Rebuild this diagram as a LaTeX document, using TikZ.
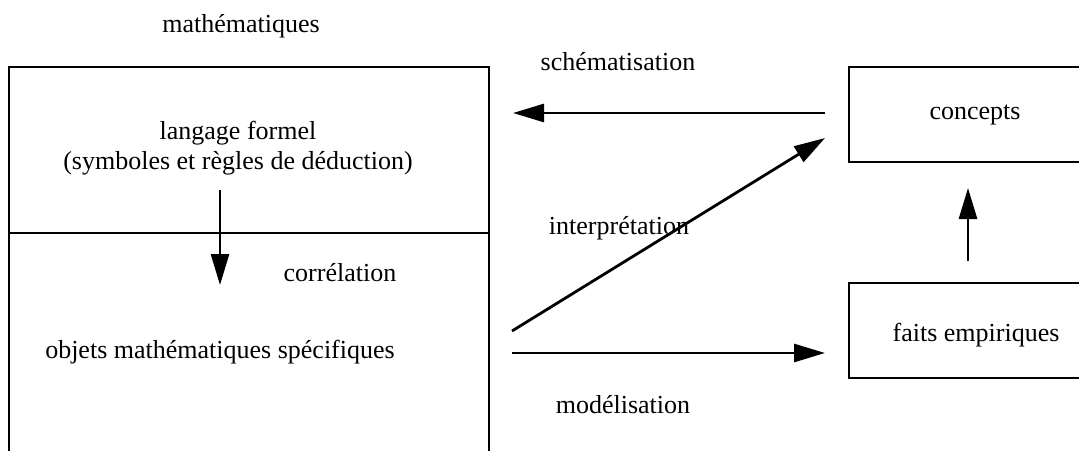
\documentclass[tikz,border=0pt]{standalone}
\usepackage{fontspec}
\setmainfont{Liberation Serif}
\usetikzlibrary{arrows.meta}

\begin{document}
\begin{tikzpicture}[x=1pt, y=-1pt,
		label/.style = {font=\fontsize{26}{30}\selectfont, inner sep=0pt, align=center},
		box/.style = {line width=2.8pt},
		link/.style = {line width=2.8pt, -{Triangle[length=31pt, width=18pt]}}]
		%page frame
		\useasboundingbox (0,0) rectangle (1079,450);
		
		%left block (open at the bottom)
		\coordinate (LTL) at (9,67);
		\coordinate (LTR) at (489,67);
		\draw [box] (9,460) -- (LTL) -- (LTR) -- (489,460);
		\draw [box] (9,233) -- (489,233);
		
		%right blocks (open to the right)
		\draw [box] (1090,67) -- (849,67) -- (849,162) -- (1090,162);
		\draw [box] (1090,283) -- (849,283) -- (849,378) -- (1090,378);
		
		%texts
		\node [label] (math) at (241,26) {mathématiques};
		\node [label] (lang) at (238,148) {langage formel\\(symboles et règles de déduction)};
		\node [label] (corr) at (340,273) {corrélation};
		\node [label] (obj) at (220,352) {objets mathématiques spécifiques};
		\node [label] (schem) at (618,62) {schématisation};
		\node [label] (interp) at (619,228) {interprétation};
		\node [label] (model) at (623,405) {modélisation};
		\node [label] (conc) at (975,115) {concepts};
		\node [label] (faits) at (976,335) {faits empiriques};
		
		%arrow ends
		\coordinate (s1) at (825,113);
		\coordinate (s2) at (513,113);
		\coordinate (i1) at (512,331);
		\coordinate (i2) at (825,138);
		\coordinate (m1) at (512,353);
		\coordinate (m2) at (825,353);
		\coordinate (c1) at (220,190);
		\coordinate (c2) at (220,285);
		\coordinate (f1) at (968,261);
		\coordinate (f2) at (968,188);
		
		%arrows
		\draw [link] (s1) -- (s2);
		\draw [link] (i1) -- (i2);
		\draw [link] (m1) -- (m2);
		\draw [link] (c1) -- (c2);
		\draw [link] (f1) -- (f2);
	\end{tikzpicture}
\end{document}
